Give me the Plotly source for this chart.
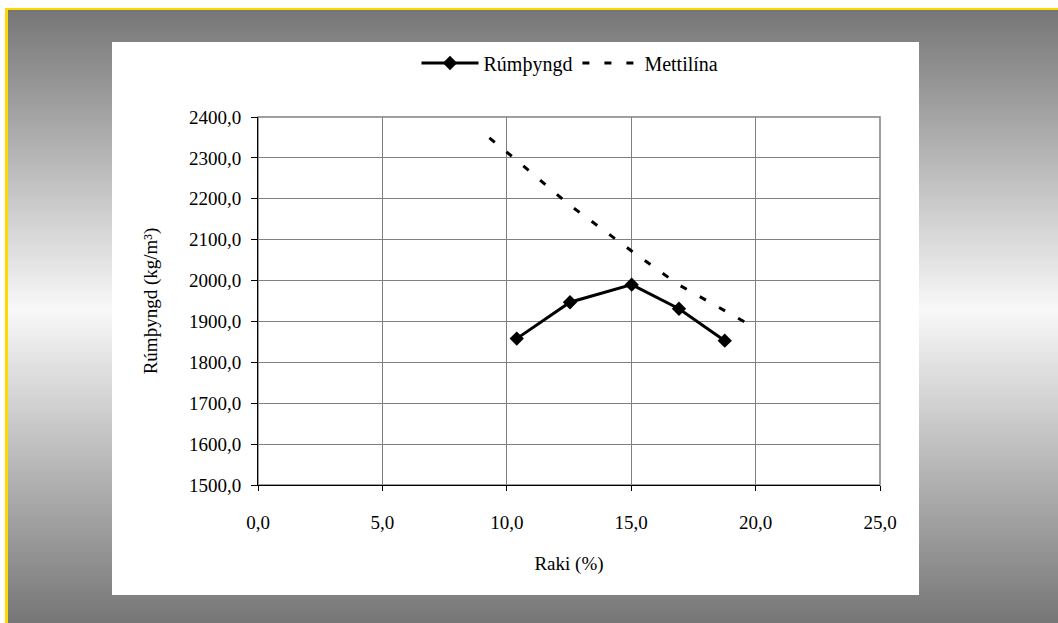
import plotly.graph_objects as go

# ---- data ----
raki = [10.4, 12.54, 15.02, 16.92, 18.76]
rumthyngd = [1858, 1947, 1990, 1931, 1853]
metti_x = [9.3, 10.4, 12.5, 15.0, 16.9, 18.8, 19.7]
metti_y = [2349, 2294, 2186, 2073, 1990, 1925, 1894]
x_ticks = [0, 5, 10, 15, 20, 25]
x_ticklabels = ["0,0", "5,0", "10,0", "15,0", "20,0", "25,0"]
y_ticks = [1500, 1600, 1700, 1800, 1900, 2000, 2100, 2200, 2300, 2400]
y_ticklabels = ["1500,0", "1600,0", "1700,0", "1800,0", "1900,0", "2000,0",
                "2100,0", "2200,0", "2300,0", "2400,0"]

W, H = 1058, 623
L, R, T, B = 258, 880, 117, 485
PW, PH = R - L, B - T
FONT = "Liberation Serif, Times New Roman, Times, serif"
FS = 19


def px_x(px):
    return (px - L) / PW


def px_y(py):
    return (B - py) / PH


shapes = []
# yellow border
shapes.append(dict(type="rect", xref="paper", yref="paper", layer="below",
                   x0=px_x(5), x1=px_x(W + 5), y0=px_y(8), y1=px_y(H + 5),
                   fillcolor="#ffd800", line=dict(width=0)))


# vertical gradient
def gray(py):
    if py <= 310:
        v = 118 + (py - 10) / 300 * 130
    else:
        v = 248 - (py - 310) / 313 * 130
    v = int(round(max(0, min(255, v))))
    return f"rgb({v},{v},{v})"


step = 2
py = 10
while py < H:
    shapes.append(dict(type="rect", xref="paper", yref="paper", layer="below",
                       x0=px_x(8), x1=px_x(W + 5), y0=px_y(py), y1=px_y(py + step + 0.5),
                       fillcolor=gray(py + step / 2), line=dict(width=0)))
    py += step

# white chart panel
shapes.append(dict(type="rect", xref="paper", yref="paper", layer="below",
                   x0=px_x(112), x1=px_x(919), y0=px_y(42), y1=px_y(595),
                   fillcolor="white", line=dict(width=0)))
# plot area border (gray)
shapes.append(dict(type="rect", xref="paper", yref="paper", layer="below",
                   x0=0, x1=1, y0=0, y1=1,
                   fillcolor="white", line=dict(color="#808080", width=1.5)))

fig = go.Figure()
fig.add_trace(go.Scatter(
    x=raki, y=rumthyngd, mode="lines+markers", name="Rúmþyngd",
    line=dict(color="black", width=3),
    marker=dict(symbol="diamond", size=11, color="black"),
))
fig.add_trace(go.Scatter(
    x=metti_x, y=metti_y, mode="lines", name="Mettilína",
    line=dict(color="black", width=3, dash="7px,15px"),
))

fig.update_layout(
    width=W, height=H,
    margin=dict(l=L, r=W - R, t=T, b=H - B, autoexpand=False),
    paper_bgcolor="white",
    plot_bgcolor="rgba(0,0,0,0)",
    shapes=shapes,
    font=dict(family=FONT, size=FS, color="black"),
    showlegend=True,
    legend=dict(orientation="h", x=px_x(570), xanchor="center", y=px_y(63), yanchor="middle",
                bgcolor="rgba(0,0,0,0)", font=dict(family=FONT, size=20, color="black"),
                itemwidth=57, tracegroupgap=0),
    xaxis=dict(range=[0, 25], tickvals=x_ticks, ticktext=x_ticklabels,
               showgrid=True, gridcolor="#808080", gridwidth=1,
               showline=True, linecolor="black", linewidth=1,
               ticks="outside", ticklen=5, tickcolor="black",
               ticklabelstandoff=15, zeroline=False, automargin=False,
               title=dict(text="Raki (%)", standoff=24,
                          font=dict(family=FONT, size=FS, color="black"))),
    yaxis=dict(range=[1500, 2400], tickvals=y_ticks, ticktext=y_ticklabels,
               showgrid=True, gridcolor="#808080", gridwidth=1,
               showline=True, linecolor="black", linewidth=1,
               ticks="outside", ticklen=6, tickcolor="black",
               ticklabelstandoff=6, zeroline=False, automargin=False,
               title=dict(text="Rúmþyngd (kg/m³)", standoff=26,
                          font=dict(family=FONT, size=FS, color="black"))),
)

fig.write_html(
    "out.html",
    config={"displayModeBar": False},
    post_script="document.body.style.margin='0';document.body.style.overflow='hidden';",
)
